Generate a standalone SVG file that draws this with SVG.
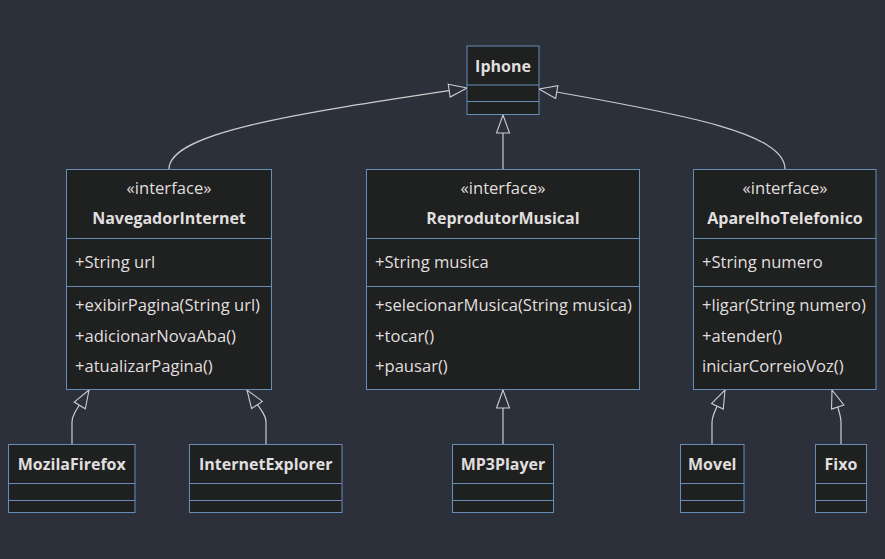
<svg xmlns="http://www.w3.org/2000/svg" width="885" height="559" viewBox="0 0 885 559">
<defs>
<style>
.box{fill:#1f2020;stroke:#6a8cb8;stroke-width:1}
.div{stroke:#6a8cb8;stroke-width:1}
.t{font-family:"Open Sans","Noto Sans","Liberation Sans",sans-serif;font-size:16.6px;font-weight:500;fill:#e0dfdf}
.b{font-weight:bold;font-size:16px}
.c{text-anchor:middle}
.edge{fill:none;stroke:#cccccc;stroke-width:1.2}
</style>
<marker id="ext" markerUnits="userSpaceOnUse" markerWidth="20" markerHeight="15" viewBox="0 0 20 15" refX="19" refY="7.5" orient="auto">
<path d="M1,1 L19,7.5 L1,14 Z" fill="#2b303b" stroke="#cccccc" stroke-width="1.1"/>
</marker>
</defs>
<rect width="885" height="559" fill="#2b303b"/>

<g id="connectors">
<path class="edge" d="M169,169 C169,132 300,113 467,88" marker-end="url(#ext)"/>
<path class="edge" d="M503,169 L503,115" marker-end="url(#ext)"/>
<path class="edge" d="M785,169 C785,134 690,115 539,89" marker-end="url(#ext)"/>
<path class="edge" d="M72,444 L72,422 C72,414 80,405 89,390" marker-end="url(#ext)"/>
<path class="edge" d="M266,444 L266,422 C266,414 257,405 247,390" marker-end="url(#ext)"/>
<path class="edge" d="M503,444 L503,390" marker-end="url(#ext)"/>
<path class="edge" d="M712,444 L712,422 C712,414 718,405 725,390" marker-end="url(#ext)"/>
<path class="edge" d="M841,444 L841,422 C841,414 837,405 832,390" marker-end="url(#ext)"/>
</g>

<g id="Iphone">
<rect class="box" x="467" y="46" width="72" height="68.5"/>
<line class="div" x1="467" y1="85" x2="539" y2="85"/>
<line class="div" x1="467" y1="101.5" x2="539" y2="101.5"/>
<text class="t b c" x="503" y="71.5">Iphone</text>
</g>

<g id="NavegadorInternet">
<rect class="box" x="66.5" y="169.5" width="205" height="220"/>
<line class="div" x1="66.5" y1="238.5" x2="271.5" y2="238.5"/>
<line class="div" x1="66.5" y1="286.5" x2="271.5" y2="286.5"/>
<text class="t c" x="169" y="194">«interface»</text>
<text class="t b c" x="169" y="223.5">NavegadorInternet</text>
<text class="t" x="75" y="268">+String url</text>
<text class="t" x="75" y="311">+exibirPagina(String url)</text>
<text class="t" x="75" y="341.5">+adicionarNovaAba()</text>
<text class="t" x="75" y="372">+atualizarPagina()</text>
</g>

<g id="ReprodutorMusical">
<rect class="box" x="366.5" y="169.5" width="273" height="220"/>
<line class="div" x1="366.5" y1="238.5" x2="639.5" y2="238.5"/>
<line class="div" x1="366.5" y1="286.5" x2="639.5" y2="286.5"/>
<text class="t c" x="503" y="194">«interface»</text>
<text class="t b c" x="503" y="223.5">ReprodutorMusical</text>
<text class="t" x="375" y="268">+String musica</text>
<text class="t" x="375" y="311">+selecionarMusica(String musica)</text>
<text class="t" x="375" y="341.5">+tocar()</text>
<text class="t" x="375" y="372">+pausar()</text>
</g>

<g id="AparelhoTelefonico">
<rect class="box" x="693.5" y="169.5" width="182.5" height="220"/>
<line class="div" x1="693.5" y1="238.5" x2="876" y2="238.5"/>
<line class="div" x1="693.5" y1="286.5" x2="876" y2="286.5"/>
<text class="t c" x="785" y="194">«interface»</text>
<text class="t b c" x="785" y="223.5">AparelhoTelefonico</text>
<text class="t" x="702" y="268">+String numero</text>
<text class="t" x="702" y="311">+ligar(String numero)</text>
<text class="t" x="702" y="341.5">+atender()</text>
<text class="t" x="702" y="372">iniciarCorreioVoz()</text>
</g>

<g id="MozilaFirefox">
<rect class="box" x="8.5" y="444.5" width="126.5" height="68"/>
<line class="div" x1="8.5" y1="483.5" x2="135" y2="483.5"/>
<line class="div" x1="8.5" y1="500.5" x2="135" y2="500.5"/>
<text class="t b c" x="71.75" y="469.5">MozilaFirefox</text>
</g>

<g id="InternetExplorer">
<rect class="box" x="189.5" y="444.5" width="152.5" height="68"/>
<line class="div" x1="189.5" y1="483.5" x2="342" y2="483.5"/>
<line class="div" x1="189.5" y1="500.5" x2="342" y2="500.5"/>
<text class="t b c" x="265.75" y="469.5">InternetExplorer</text>
</g>

<g id="MP3Player">
<rect class="box" x="452.5" y="444.5" width="101" height="68"/>
<line class="div" x1="452.5" y1="483.5" x2="553.5" y2="483.5"/>
<line class="div" x1="452.5" y1="500.5" x2="553.5" y2="500.5"/>
<text class="t b c" x="503" y="469.5">MP3Player</text>
</g>

<g id="Movel">
<rect class="box" x="680.5" y="444.5" width="63.5" height="68"/>
<line class="div" x1="680.5" y1="483.5" x2="744" y2="483.5"/>
<line class="div" x1="680.5" y1="500.5" x2="744" y2="500.5"/>
<text class="t b c" x="712.25" y="469.5">Movel</text>
</g>

<g id="Fixo">
<rect class="box" x="815.5" y="444.5" width="51" height="68"/>
<line class="div" x1="815.5" y1="483.5" x2="866.5" y2="483.5"/>
<line class="div" x1="815.5" y1="500.5" x2="866.5" y2="500.5"/>
<text class="t b c" x="841" y="469.5">Fixo</text>
</g>
</svg>
